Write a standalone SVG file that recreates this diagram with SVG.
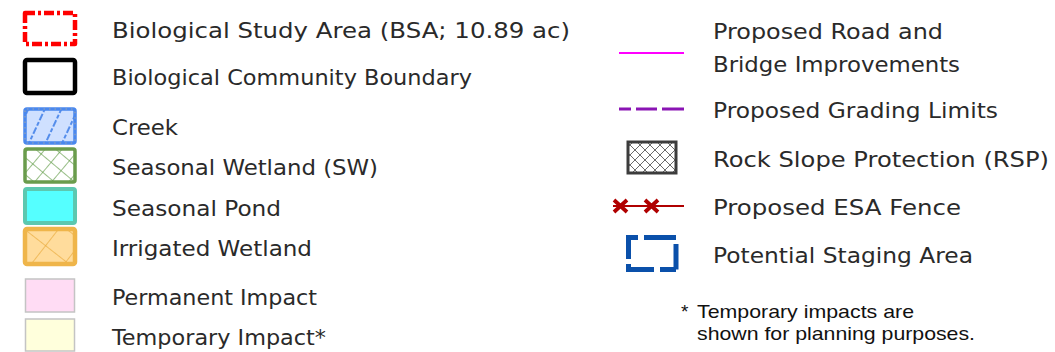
<svg xmlns="http://www.w3.org/2000/svg" width="1055" height="352" viewBox="0 0 1055 352">
  <style>
    .lbl { font-family: "DejaVu Sans", "Liberation Sans", sans-serif; font-size: 21px; fill: #2a2a2a; }
    .note { font-family: "Liberation Sans", Arial, sans-serif; font-size: 19px; fill: #111; }
    .box { stroke-linejoin: round; }
  </style>
  <defs>
    <pattern id="creekHatch" width="15" height="15" patternUnits="userSpaceOnUse" patternTransform="translate(25 109) rotate(25)">
      <line x1="3" y1="0" x2="3" y2="15" stroke="#3f7fe8" stroke-width="1.7" stroke-dasharray="4 2"/>
    </pattern>
    <pattern id="wetHatch" width="13" height="13" patternUnits="userSpaceOnUse" patternTransform="rotate(40)">
      <line x1="0" y1="0" x2="13" y2="0" stroke="#5f9a45" stroke-width="1.3"/>
      <line x1="0" y1="0" x2="0" y2="13" stroke="#5f9a45" stroke-width="1.3"/>
    </pattern>
    <pattern id="irrHatch" width="26" height="26" patternUnits="userSpaceOnUse" patternTransform="translate(25 229) rotate(38)">
      <line x1="0" y1="0" x2="26" y2="0" stroke="#e8a838" stroke-width="1.3"/>
      <line x1="0" y1="0" x2="0" y2="26" stroke="#e8a838" stroke-width="1.3"/>
    </pattern>
    <pattern id="rspHatch" width="10" height="10" patternUnits="userSpaceOnUse">
      <rect width="10" height="10" fill="#ffffff"/>
      <path d="M0 5 L5 0 L10 5 L5 10 Z" fill="none" stroke="#6a6a6a" stroke-width="1"/>
    </pattern>
  </defs>

  <!-- left column -->
  <g id="bsa">
    <rect class="box" x="25" y="13" width="50" height="31" fill="none" stroke="#ff0000" stroke-width="4.5" stroke-dasharray="10 3 3 3"/>
    <text class="lbl" x="112" y="38" textLength="458" lengthAdjust="spacingAndGlyphs">Biological Study Area (BSA; 10.89 ac)</text>
  </g>
  <g id="community">
    <rect class="box" x="25" y="60" width="50" height="33" rx="2" fill="none" stroke="#000" stroke-width="4.5"/>
    <text class="lbl" x="112" y="85" textLength="360" lengthAdjust="spacingAndGlyphs">Biological Community Boundary</text>
  </g>
  <g id="creek">
    <rect class="box" x="25" y="109" width="50" height="34" rx="2" fill="#cfe0ff"/>
    <rect x="25" y="109" width="50" height="34" fill="url(#creekHatch)"/>
    <rect class="box" x="25" y="109" width="50" height="34" rx="2" fill="none" stroke="#4a88ee" stroke-width="3.5"/>
    <rect x="25" y="109" width="50" height="34" rx="2" fill="none" stroke="#9aa4b0" stroke-width="1.2" stroke-dasharray="1.5 4"/>
    <text class="lbl" x="112" y="135" textLength="66" lengthAdjust="spacingAndGlyphs">Creek</text>
  </g>
  <g id="seasonal-wetland">
    <rect x="25" y="149" width="50" height="33" fill="#ffffff"/>
    <rect x="25" y="149" width="50" height="33" fill="url(#wetHatch)"/>
    <rect class="box" x="25" y="149" width="50" height="33" rx="2" fill="none" stroke="#6a9c4c" stroke-width="3.5"/>
    <text class="lbl" x="112" y="175" textLength="266" lengthAdjust="spacingAndGlyphs">Seasonal Wetland (SW)</text>
  </g>
  <g id="seasonal-pond">
    <rect class="box" x="25" y="189" width="50" height="34" rx="2" fill="#55ffff" stroke="#5cc8b0" stroke-width="4"/>
    <text class="lbl" x="112" y="216" textLength="169" lengthAdjust="spacingAndGlyphs">Seasonal Pond</text>
  </g>
  <g id="irrigated-wetland">
    <rect x="25" y="229" width="50" height="35" fill="#ffdc9c"/>
    <rect x="25" y="229" width="50" height="35" fill="url(#irrHatch)"/>
    <rect class="box" x="25" y="229" width="50" height="35" rx="2" fill="none" stroke="#efb54a" stroke-width="4.5"/>
    <text class="lbl" x="112" y="256" textLength="200" lengthAdjust="spacingAndGlyphs">Irrigated Wetland</text>
  </g>
  <g id="permanent-impact">
    <rect x="25.5" y="279" width="49" height="33" fill="#ffdcf4" stroke="#c4c4c4" stroke-width="1.5"/>
    <text class="lbl" x="112" y="305" textLength="205" lengthAdjust="spacingAndGlyphs">Permanent Impact</text>
  </g>
  <g id="temporary-impact">
    <rect x="25.5" y="319" width="49" height="32" fill="#ffffdc" stroke="#c4c4c4" stroke-width="1.5"/>
    <text class="lbl" x="112" y="345" textLength="214" lengthAdjust="spacingAndGlyphs">Temporary Impact*</text>
  </g>

  <!-- right column -->
  <g id="road-bridge">
    <line x1="619" y1="53" x2="684" y2="53" stroke="#ff00ff" stroke-width="2"/>
    <text class="lbl" x="713" y="39" textLength="230" lengthAdjust="spacingAndGlyphs">Proposed Road and</text>
    <text class="lbl" x="713" y="72" textLength="247" lengthAdjust="spacingAndGlyphs">Bridge Improvements</text>
  </g>
  <g id="grading-limits">
    <path d="M619 109 H631 M636 109 H657 M662 109 H684" stroke="#8a14b4" stroke-width="3"/>
    <text class="lbl" x="713" y="118" textLength="285" lengthAdjust="spacingAndGlyphs">Proposed Grading Limits</text>
  </g>
  <g id="rsp">
    <rect x="628" y="142" width="48" height="31" fill="url(#rspHatch)" stroke="#3c3c3c" stroke-width="3"/>
    <text class="lbl" x="713" y="167" textLength="336" lengthAdjust="spacingAndGlyphs">Rock Slope Protection (RSP)</text>
  </g>
  <g id="esa-fence">
    <line x1="613" y1="206" x2="684" y2="206" stroke="#b00000" stroke-width="2"/>
    <path d="M614 200 L627 212 M627 200 L614 212 M645 200 L658 212 M658 200 L645 212" stroke="#b00000" stroke-width="3.8"/>
    <text class="lbl" x="713" y="215" textLength="248" lengthAdjust="spacingAndGlyphs">Proposed ESA Fence</text>
  </g>
  <g id="staging-area">
    <path d="M638 237.5 H628.5 V259 M644 237.5 H676 M676 244 V269.5 M628.5 264 V269.5 H654 M660 269.5 H676" fill="none" stroke="#0a50aa" stroke-width="5"/>
    <text class="lbl" x="713" y="263" textLength="260" lengthAdjust="spacingAndGlyphs">Potential Staging Area</text>
  </g>
  <g id="footnote">
    <text class="note" x="681" y="318">*</text>
    <text class="note" x="697" y="318" textLength="217" lengthAdjust="spacingAndGlyphs">Temporary impacts are</text>
    <text class="note" x="697" y="340" textLength="278" lengthAdjust="spacingAndGlyphs">shown for planning purposes.</text>
  </g>
</svg>
